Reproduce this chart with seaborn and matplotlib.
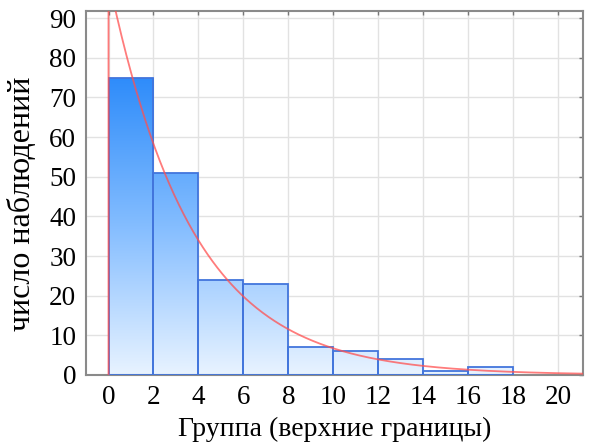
import numpy as np
import pandas as pd
import matplotlib
matplotlib.use("Agg")
import matplotlib.pyplot as plt
import seaborn as sns
from matplotlib.colors import LinearSegmentedColormap

# ---- data ----
bin_edges = [0, 2, 4, 6, 8, 10, 12, 14, 16, 18]
counts = [75, 51, 24, 23, 7, 6, 4, 1, 2]
x_ticks = [0, 2, 4, 6, 8, 10, 12, 14, 16, 18, 20]
y_ticks = [0, 10, 20, 30, 40, 50, 60, 70, 80, 90]
# fitted exponential curve parameters (expected count per bin)
fit_scale = 100.0
fit_rate = 0.27
x_label = "Группа (верхние границы)"
y_label = "число наблюдений"

sns.set_style("white")
plt.rcParams["font.family"] = ["Liberation Serif", "DejaVu Serif"]

fig = plt.figure(figsize=(5.9, 4.48), dpi=100)
ax = fig.add_axes([0.1458, 0.163, 0.8422, 0.8124])

mids = [(bin_edges[i] + bin_edges[i + 1]) / 2 for i in range(len(counts))]
df = pd.DataFrame({"mid": mids, "count": counts})
sns.histplot(data=df, x="mid", weights="count", bins=bin_edges, ax=ax,
             stat="count", fill=True, color="#3B6FD9", edgecolor="#3B6FD9",
             linewidth=1.3, alpha=1.0, zorder=2)

cmap = LinearSegmentedColormap.from_list(
    "g", [(0.0, "#E8F3FF"), (0.5, "#84BDFF"), (1.0, "#2E8CFA")])
ymax_bar = max(counts)
grad = np.linspace(0, 1, 256).reshape(-1, 1)
for p in ax.patches:
    p.set_facecolor("none")
    p.set_edgecolor("#4275DC")
    p.set_zorder(3)
    im = ax.imshow(grad, cmap=cmap, origin="lower", aspect="auto",
                   extent=(-1, 22, 0, ymax_bar), zorder=2.5,
                   interpolation="bilinear")
    im.set_clip_path(p)

# fitted curve
xc = np.linspace(0, 21.2, 400)
yc = fit_scale * np.exp(-fit_rate * xc)
xc = np.concatenate([[0], xc])
yc = np.concatenate([[0], yc])
sns.lineplot(x=xc, y=yc, ax=ax, color="#FF5050", linewidth=1.3, alpha=0.75,
             sort=False, estimator=None, zorder=4)

ax.set_xlim(-1, 21.1)
ax.set_ylim(0, 91.8)
ax.set_xticks(x_ticks)
ax.set_yticks(y_ticks)
ax.set_xticklabels([str(t) for t in x_ticks])
ax.set_yticklabels([str(t) for t in y_ticks])
ax.grid(True, color="#E2E2E2", linewidth=1.0, zorder=0)
ax.set_axisbelow(True)
ax.tick_params(axis="both", direction="in", length=3, width=1,
               color="#777777", labelsize=19.5, top=True, right=True,
               pad=7, labelcolor="black")
for s in ax.spines.values():
    s.set_visible(True)
    s.set_color("#8A8A8A")
    s.set_linewidth(1.5)

ax.set_xlabel(x_label, fontsize=20, labelpad=5, color="black")
ax.set_ylabel(y_label, fontsize=23, color="black")
ax.yaxis.set_label_coords(-0.098, 0.47)

fig.savefig("out.png", dpi=100, facecolor="white")
